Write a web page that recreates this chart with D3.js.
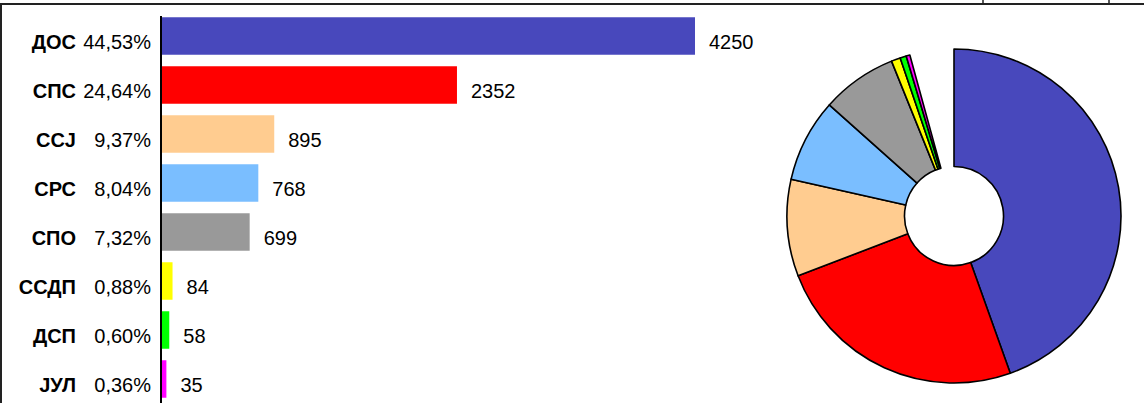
<!DOCTYPE html>
<html><head><meta charset="utf-8">
<script src="https://cdn.jsdelivr.net/npm/d3@7/dist/d3.min.js"></script>
<style>body{margin:0;background:#fff;}svg{display:block;font-family:"Liberation Sans",Arial,sans-serif;}</style>
</head><body>
<script>
const parties = ["ДОС","СПС","ССЈ","СРС","СПО","ССДП","ДСП","ЈУЛ"];
const votes = [4250,2352,895,768,699,84,58,35];
const percentLabels = ["44,53%","24,64%","9,37%","8,04%","7,32%","0,88%","0,60%","0,36%"];
const percents = [44.53,24.64,9.37,8.04,7.32,0.88,0.60,0.36];
const colors = ["#4848BC","#FF0000","#FFCC90","#7ABEFF","#999999","#FFFF00","#00FF00","#FF00FF"];

const W=1144,H=403;
const svg=d3.select("body").append("svg").attr("width",W).attr("height",H);

// frame
svg.append("line").attr("x1",0).attr("x2",W).attr("y1",4).attr("y2",4).attr("stroke","#222").attr("stroke-width",2);
svg.append("line").attr("x1",1).attr("x2",1).attr("y1",4).attr("y2",H).attr("stroke","#222").attr("stroke-width",2);
[983,1109].forEach(x=>svg.append("line").attr("x1",x).attr("x2",x).attr("y1",0).attr("y2",4).attr("stroke","#222").attr("stroke-width",1.5));

const x=d3.scaleLinear().domain([0,4250]).range([162,695]);
const y=d3.scaleBand().domain(parties).range([11.5,403.5]).paddingInner(0.235).paddingOuter(0.1175);

svg.selectAll("rect.bar").data(parties).enter().append("rect")
  .attr("x",x(0)).attr("y",d=>y(d)).attr("height",y.bandwidth())
  .attr("width",(d,i)=>x(votes[i])-x(0)).attr("fill",(d,i)=>colors[i]);

svg.append("line").attr("x1",161).attr("x2",161).attr("y1",16).attr("y2",H).attr("stroke","#000").attr("stroke-width",2);

const fs=20;
const base=d=>y(d)+y.bandwidth()/2+12.5;
svg.selectAll("text.name").data(parties).enter().append("text")
  .attr("x",76).attr("y",base)
  .attr("text-anchor","end").attr("font-weight","bold").attr("font-size",fs).text(d=>d);
svg.selectAll("text.pct").data(parties).enter().append("text")
  .attr("x",151).attr("y",base)
  .attr("text-anchor","end").attr("font-size",fs).text((d,i)=>percentLabels[i]);
svg.selectAll("text.val").data(parties).enter().append("text")
  .attr("x",(d,i)=>x(votes[i])+14).attr("y",base)
  .attr("font-size",fs).text((d,i)=>votes[i]);

// pie
const total=d3.sum(percents);
const pie=d3.pie().sort(null).startAngle(0).endAngle(2*Math.PI*total/100);
const arc=d3.arc().innerRadius(49.5).outerRadius(167);
const g=svg.append("g").attr("transform","translate(954,216)");
g.selectAll("path").data(pie(percents)).enter().append("path")
  .attr("d",arc).attr("fill",(d,i)=>colors[i]).attr("stroke","#000").attr("stroke-width",1.6).attr("stroke-linejoin","round");
</script>
</body></html>
